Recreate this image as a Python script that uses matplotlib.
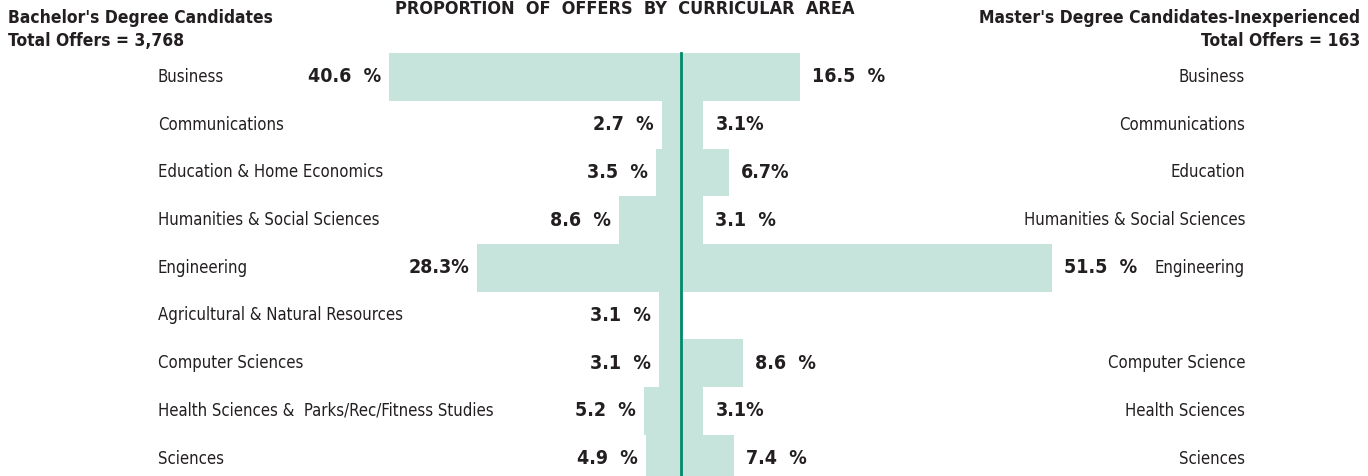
import numpy as np
import matplotlib
matplotlib.use("Agg")
import matplotlib.pyplot as plt

left_labels = ["Business", "Communications", "Education & Home Economics",
               "Humanities & Social Sciences", "Engineering",
               "Agricultural & Natural Resources", "Computer Sciences",
               "Health Sciences &  Parks/Rec/Fitness Studies", "Sciences"]
left_values = [40.6, 2.7, 3.5, 8.6, 28.3, 3.1, 3.1, 5.2, 4.9]
left_text = ["40.6  %", "2.7  %", "3.5  %", "8.6  %", "28.3%", "3.1  %", "3.1  %", "5.2  %", "4.9  %"]

right_labels = ["Business", "Communications", "Education",
                "Humanities & Social Sciences", "Engineering", "",
                "Computer Science", "Health Sciences", "Sciences"]
right_values = [16.5, 3.1, 6.7, 3.1, 51.5, 0, 8.6, 3.1, 7.4]
right_text = ["16.5  %", "3.1%", "6.7%", "3.1  %", "51.5  %", "", "8.6  %", "3.1%", "7.4  %"]

fam = ['Liberation Sans Narrow', 'DejaVu Sans']
plt.rcParams['font.family'] = fam
plt.rcParams['font.stretch'] = 'condensed'

bar_col = '#c6e3dc'
line_col = '#008a6a'
txt_col = '#231f20'

W, H = 1368, 476
fig = plt.figure(figsize=(W / 100, H / 100), dpi=100)
ax = fig.add_axes([0, 0, 1, 1])

px = 7.2      # pixels per percent
cx = 681      # centre line x
row_h = 47.7
y0 = 77
ax.set_xlim(-cx / px, (W - cx) / px)
ax.set_ylim((H - y0) / row_h, -y0 / row_h)
ax.axis('off')

y = np.arange(len(left_labels))
ax.barh(y, [-v for v in left_values], height=1.0, color=bar_col, linewidth=0)
ax.barh(y, right_values, height=1.0, color=bar_col, linewidth=0)
ax.plot([0, 0], [-0.5, len(y) + 1], color=line_col, lw=2)

lx = (158 - cx) / px
rx = (1245 - cx) / px
for i in range(len(y)):
    ax.text(lx, i, left_labels[i], ha='left', va='center', fontsize=12, color=txt_col)
    ax.annotate(left_text[i], (-left_values[i], i), xytext=(-8, 0), textcoords='offset pixels',
                ha='right', va='center', fontsize=14, fontweight='bold', color=txt_col)
    if right_labels[i]:
        ax.text(rx, i, right_labels[i], ha='right', va='center', fontsize=12, color=txt_col)
    if right_text[i]:
        ax.annotate(right_text[i], (right_values[i], i), xytext=(12, 0), textcoords='offset pixels',
                    ha='left', va='center', fontsize=14, fontweight='bold', color=txt_col)

fig.text(625 / W, 1, "PROPORTION  OF  OFFERS  BY  CURRICULAR  AREA", ha='center', va='top',
         fontsize=13, fontweight='bold', color=txt_col)
fig.text(8 / W, 1 - 18 / H, "Bachelor's Degree Candidates", ha='left', va='center',
         fontsize=12.5, fontweight='bold', color=txt_col)
fig.text(8 / W, 1 - 41 / H, "Total Offers = 3,768", ha='left', va='center',
         fontsize=12.5, fontweight='bold', color=txt_col)
fig.text(1360 / W, 1 - 18 / H, "Master's Degree Candidates-Inexperienced", ha='right', va='center',
         fontsize=12.5, fontweight='bold', color=txt_col)
fig.text(1360 / W, 1 - 41 / H, "Total Offers = 163", ha='right', va='center',
         fontsize=12.5, fontweight='bold', color=txt_col)

fig.savefig("out.png", dpi=100)
